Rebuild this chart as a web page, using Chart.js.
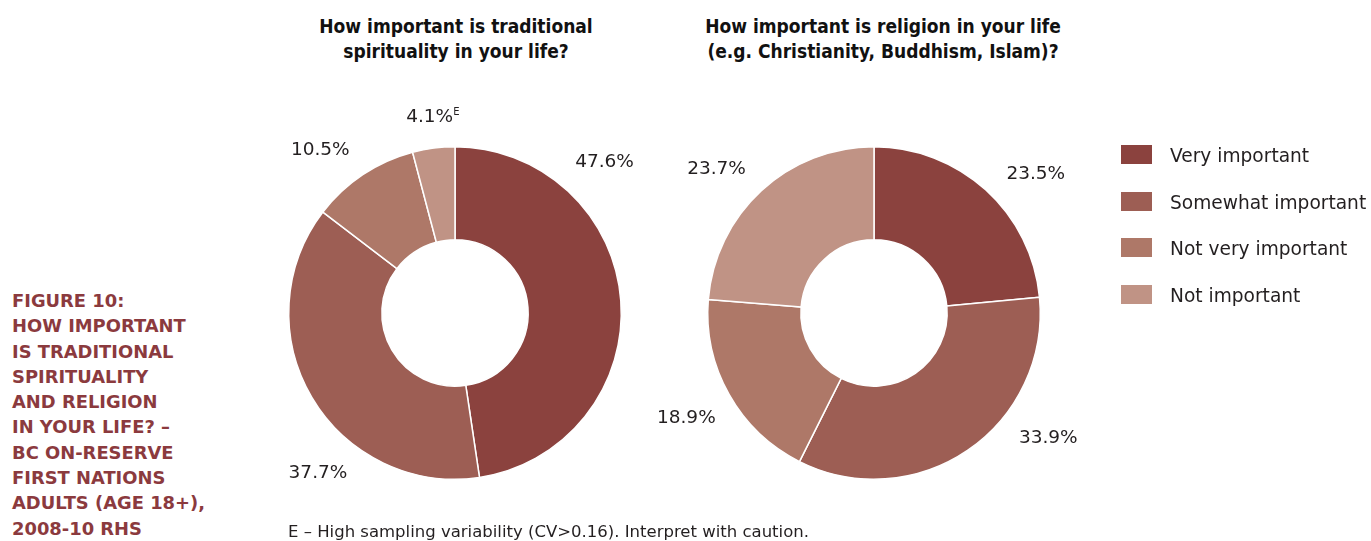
<!DOCTYPE html>
<html lang="en">
<head>
<meta charset="UTF-8">
<title>Figure 10 - traditional spirituality and religion</title>
<style>
  body { margin: 0; background: #fff; width: 1371px; height: 541px; position: relative; overflow: hidden;
         font-family: 'DejaVu Sans', sans-serif; color: #231f20; }
  .fig { position: absolute; left: 12px; top: 288px; color: #8b3a3e; font-weight: bold;
         font-size: 17.9px; line-height: 25.3px; }
  .q { position: absolute; top: 14px; width: 420px; text-align: center; font-family: 'DejaVu Sans Condensed', 'DejaVu Sans', sans-serif;
       font-stretch: condensed; font-weight: bold; font-size: 19px; line-height: 25px; color: #111; }
  .box { position: absolute; top: 103px; width: 520px; height: 420px; }
  #legend { position: absolute; left: 1121px; top: 145px; }
  #legend div { height: 46.7px; position: relative; }
  #legend span.sw { position: absolute; left: 0; top: 0; width: 31px; height: 19px; }
  #legend span.tx { position: absolute; left: 49px; top: 0px; font-size: 18.6px; white-space: nowrap; }
  .note { position: absolute; left: 288px; top: 522px; font-size: 16.5px; white-space: nowrap; }
</style>
</head>
<body>
  <div class="fig">FIGURE 10:<br>HOW IMPORTANT<br>IS TRADITIONAL<br>SPIRITUALITY<br>AND RELIGION<br>IN YOUR LIFE? –<br>BC ON-RESERVE<br>FIRST NATIONS<br>ADULTS (AGE 18+),<br>2008-10 RHS</div>

  <div class="q" style="left:246px">How important is traditional<br>spirituality in your life?</div>
  <div class="q" style="left:673px">How important is religion in your life<br>(e.g. Christianity, Buddhism, Islam)?</div>

  <div class="box" style="left:195px"><canvas id="spirit"></canvas></div>
  <div class="box" style="left:614px"><canvas id="religion"></canvas></div>

  <div id="legend"></div>
  <div class="note">E – High sampling variability (CV&gt;0.16). Interpret with caution.</div>

<script src="https://cdn.jsdelivr.net/npm/chart.js"></script>
<script>
const categories = ['Very important', 'Somewhat important', 'Not very important', 'Not important'];
const spiritValues = [47.6, 37.7, 10.5, 4.1];
const religionValues = [23.5, 33.9, 18.9, 23.7];
// E = high sampling variability
const spiritFlags = ['', '', '', 'E'];
const religionFlags = ['', '', '', ''];
const colors = ['#8b423e', '#9d5e54', '#ae7868', '#c09385'];

// legend on the right
const legend = document.getElementById('legend');
categories.forEach((c, i) => {
  const row = document.createElement('div');
  row.innerHTML = '<span class="sw" style="background:' + colors[i] + '"></span><span class="tx">' + c + '</span>';
  legend.appendChild(row);
});

// percentage labels outside each slice
const outsideLabels = {
  id: 'outsideLabels',
  afterDatasetsDraw(chart, args, opts) {
    const ctx = chart.ctx;
    const meta = chart.getDatasetMeta(0);
    const values = chart.data.datasets[0].data;
    ctx.save();
    ctx.font = '18.5px "DejaVu Sans"';
    ctx.fillStyle = '#231f20';
    ctx.textAlign = 'center';
    ctx.textBaseline = 'middle';
    meta.data.forEach((arc, i) => {
      const p = arc.getProps(['x', 'y', 'startAngle', 'endAngle', 'outerRadius'], true);
      const a = (p.startAngle + p.endAngle) / 2 + (opts.shift[i] || 0) * Math.PI / 180;
      const txt = values[i].toFixed(1) + '%';
      const w = ctx.measureText(txt).width;
      const d = p.outerRadius + 19 + Math.abs(Math.cos(a)) * w / 2 + Math.abs(Math.sin(a)) * 9;
      const lx = p.x + Math.cos(a) * d;
      const ly = p.y + Math.sin(a) * d;
      ctx.fillText(txt, lx, ly);
      if (opts.flags[i]) {
        ctx.save();
        ctx.font = '10px "DejaVu Sans"';
        ctx.textAlign = 'left';
        ctx.fillText(opts.flags[i], lx + w / 2, ly - 5);
        ctx.restore();
      }
    });
    ctx.restore();
  }
};

function makeDoughnut(id, values, flags, shift) {
  return new Chart(document.getElementById(id), {
    type: 'doughnut',
    data: {
      labels: categories,
      datasets: [{
        data: values,
        backgroundColor: colors,
        borderColor: '#fff',
        borderWidth: 1.5,
        hoverOffset: 0
      }]
    },
    options: {
      responsive: true,
      maintainAspectRatio: false,
      animation: false,
      cutout: '44%',
      layout: { padding: { left: 93, right: 93, top: 43, bottom: 43 } },
      events: [],
      plugins: {
        legend: { display: false },
        tooltip: { enabled: false },
        outsideLabels: { flags: flags, shift: shift }
      }
    },
    plugins: [outsideLabels]
  });
}

makeDoughnut('spirit', spiritValues, spiritFlags, [-41, -19, -6, 0]);
makeDoughnut('religion', religionValues, religionFlags, [7, -20, 0, -5]);
</script>
</body>
</html>
